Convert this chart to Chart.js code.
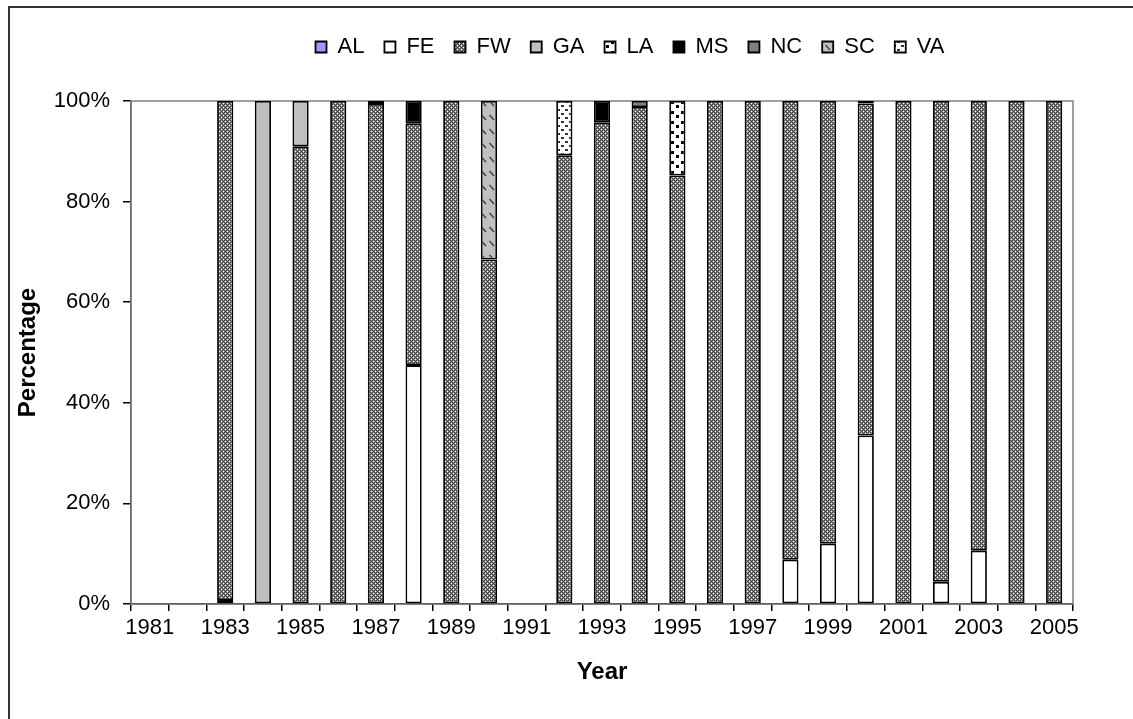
<!DOCTYPE html>
<html>
    <head>
        <meta content="text/html;charset=utf-8" http-equiv="Content-Type">
        <script src="https://cdn.jsdelivr.net/npm/chart.js@4/dist/chart.umd.min.js"></script>
        <style type="text/css">
            body{
                margin: 0px;
                background-color: white;
            }
            #frame{
                position: absolute;
                left: 8px;
                top: 6px;
                width: 1300px;
                height: 900px;
                border-left: 2px solid #333;
                border-top: 2px solid #333;
            }
            #myChart{
                position: absolute;
                left: 0px;
                top: 0px;
            }
        </style>
    </head>
    <body>
        <div id="frame"></div>
        <canvas id="myChart" width="1133" height="719"></canvas>
        <script>

            // data (percent of each year)
            var years = ['1981','1982','1983','1984','1985','1986','1987','1988','1989','1990',
                         '1991','1992','1993','1994','1995','1996','1997','1998','1999','2000',
                         '2001','2002','2003','2004','2005'];
            var al = [0,0,0,0,0,0,0,0,0,0, 0,0,0,0,0,0,0,0,0,0, 0,0,0,0,0];
            var fe = [0,0,0.8,0,0,0,0,47.5,0,0, 0,0,0,0,0,0,0,8.8,12,33.5, 0,4.4,10.6,0,0];
            var fw = [0,0,99.2,0,91,100,99.4,48,100,68.5, 0,89.2,95.8,98.8,85.2,100,100,91.2,88,66, 100,95.6,89.4,100,100];
            var ga = [0,0,0,100,9,0,0,0,0,0, 0,0,0,0,0,0,0,0,0,0, 0,0,0,0,0];
            var la = [0,0,0,0,0,0,0,0,0,0, 0,0,0,0,14.8,0,0,0,0,0, 0,0,0,0,0];
            var ms = [0,0,0,0,0,0,0.6,4.5,0,0, 0,0,4.2,0,0,0,0,0,0,0.5, 0,0,0,0,0];
            var nc = [0,0,0,0,0,0,0,0,0,0, 0,0,0,1.2,0,0,0,0,0,0, 0,0,0,0,0];
            var sc = [0,0,0,0,0,0,0,0,0,31.5, 0,0,0,0,0,0,0,0,0,0, 0,0,0,0,0];
            var va = [0,0,0,0,0,0,0,0,0,0, 0,10.8,0,0,0,0,0,0,0,0, 0,0,0,0,0];
            var yTicks = [0, 20, 40, 60, 80, 100];

            function makePattern(w, h, draw){
                var c = document.createElement('canvas');
                c.width = w;
                c.height = h;
                var g = c.getContext('2d');
                draw(g);
                return g.createPattern(c, 'repeat');
            }

            // Excel style fills
            var fwFill = makePattern(4, 4, function(g){
                for(var x = 0; x < 4; x++){
                    for(var y = 0; y < 4; y++){
                        g.fillStyle = (x + y) % 2 == 0 ? '#3a3a3a' : '#8e8e8e';
                        g.fillRect(x, y, 1, 1);
                    }
                }
                g.fillStyle = '#ffffff';
                g.fillRect(1, 1, 1, 1);
                g.fillRect(3, 3, 1, 1);
            });
            var scFill = makePattern(8, 14, function(g){
                g.fillStyle = '#c0c0c0';
                g.fillRect(0, 0, 8, 14);
                g.strokeStyle = '#3a3a3a';
                g.lineWidth = 1.3;
                g.beginPath();
                g.moveTo(1.5, 3);
                g.lineTo(6, 8);
                g.stroke();
            });
            var laFill = makePattern(10, 10, function(g){
                g.fillStyle = '#ffffff';
                g.fillRect(0, 0, 10, 10);
                g.fillStyle = '#000000';
                g.fillRect(1, 1, 3, 3);
                g.fillRect(6, 5, 3, 3);
            });
            var vaFill = makePattern(8, 8, function(g){
                g.fillStyle = '#ffffff';
                g.fillRect(0, 0, 8, 8);
                g.fillStyle = '#333333';
                g.fillRect(1, 1, 3, 2);
                g.fillRect(5, 5, 3, 2);
            });

            function ds(label, values, fill){
                return {
                    label: label,
                    data: values.map(function(v){ return v || null; }),
                    backgroundColor: fill,
                    borderColor: '#000000',
                    borderWidth: 1.8,
                    borderSkipped: false,
                    barPercentage: 0.43,
                    categoryPercentage: 1
                };
            }

            // grey frame round the plot area (top and right edges)
            var plotFrame = {
                id: 'plotFrame',
                afterLayout: function(chart){
                    // legend sits a bit right of the plot centre in the original
                    chart.legend.left += 28;
                    chart.legend.right += 28;
                },
                beforeDatasetsDraw: function(chart){
                    var a = chart.chartArea;
                    var ctx = chart.ctx;
                    ctx.save();
                    ctx.strokeStyle = '#808080';
                    ctx.lineWidth = 1.5;
                    ctx.strokeRect(a.left, a.top, a.right - a.left, a.bottom - a.top);
                    ctx.restore();
                }
            };

            var font = 'Liberation Sans';
            Chart.defaults.color = '#000000';

            var ctx = document.getElementById('myChart').getContext('2d');
            var chart = new Chart(ctx, {
                type: 'bar',
                data: {
                    labels: years,
                    datasets: [
                        ds('AL', al, '#9999ff'),
                        ds('FE', fe, '#ffffff'),
                        ds('FW', fw, fwFill),
                        ds('GA', ga, '#c0c0c0'),
                        ds('LA', la, laFill),
                        ds('MS', ms, '#000000'),
                        ds('NC', nc, '#808080'),
                        ds('SC', sc, scFill),
                        ds('VA', va, vaFill)
                    ]
                },
                plugins: [plotFrame],
                options: {
                    responsive: false,
                    animation: false,
                    layout: {
                        padding: {left: 0, right: 60, top: 16, bottom: 0}
                    },
                    plugins: {
                        legend: {
                            position: 'top',
                            fullSize: false,
                            weight: 1000,
                            labels: {
                                boxWidth: 11,
                                boxHeight: 11,
                                padding: 20,
                                font: {family: font, size: 22}
                            }
                        },
                        title: {
                            display: true,
                            text: ' ',
                            fullSize: false,
                            weight: 500,
                            font: {size: 10},
                            padding: {top: 0, bottom: 21}
                        },
                        tooltip: {enabled: false}
                    },
                    scales: {
                        x: {
                            stacked: true,
                            grid: {
                                drawOnChartArea: false,
                                drawTicks: true,
                                tickLength: 7,
                                tickColor: '#000000',
                                lineWidth: 1.5
                            },
                            border: {color: '#000000', width: 1.5},
                            ticks: {
                                autoSkip: false,
                                maxRotation: 0,
                                padding: 4,
                                font: {family: font, size: 22},
                                callback: function(value, index){
                                    return index % 2 == 0 ? years[index] : '';
                                }
                            },
                            title: {
                                display: true,
                                text: 'Year',
                                font: {family: font, size: 24, weight: 'bold'},
                                padding: {top: 0, bottom: 32}
                            },
                            afterFit: function(scale){
                                scale.height = 115;
                            }
                        },
                        y: {
                            stacked: true,
                            min: 0,
                            max: 100,
                            afterBuildTicks: function(scale){
                                scale.ticks = yTicks.map(function(v){ return {value: v}; });
                            },
                            grid: {
                                drawOnChartArea: false,
                                drawTicks: true,
                                tickLength: 8,
                                tickColor: '#000000',
                                lineWidth: 1.5
                            },
                            border: {color: '#333333', width: 1.5},
                            ticks: {
                                padding: 13,
                                font: {family: font, size: 22},
                                callback: function(value){
                                    return value + '%';
                                }
                            },
                            title: {
                                display: true,
                                text: 'Percentage',
                                font: {family: font, size: 24, weight: 'bold'},
                                padding: {top: 14, bottom: 0}
                            },
                            afterFit: function(scale){
                                scale.width = 131;
                            }
                        }
                    }
                }
            });
        </script>
    </body>
</html>
